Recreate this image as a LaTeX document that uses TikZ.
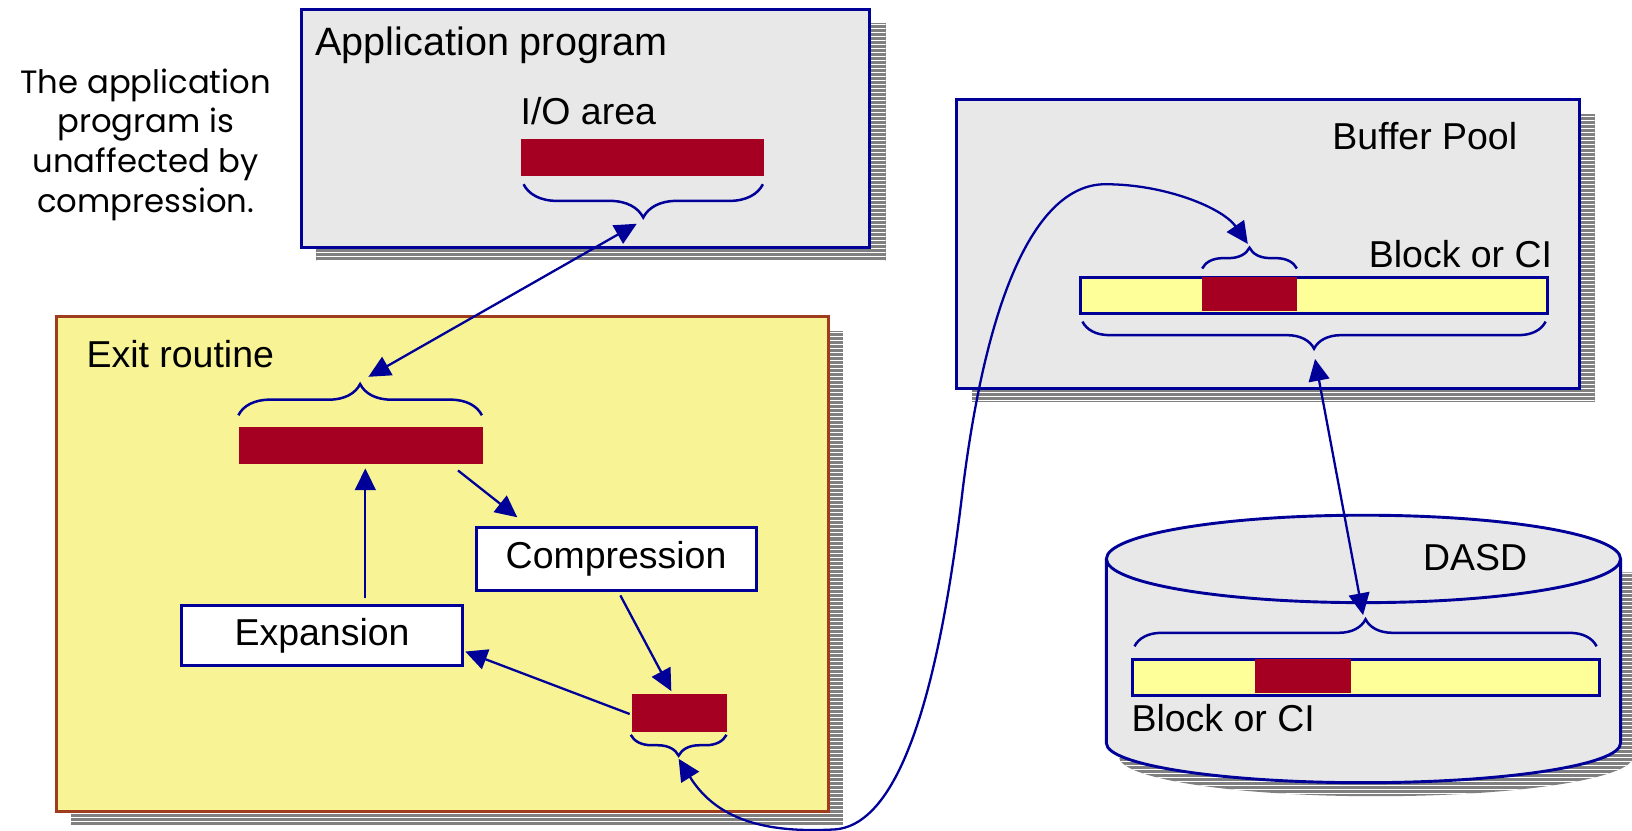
\documentclass[tikz,border=0pt]{standalone}
\usepackage{fontspec}
\setmainfont{Liberation Sans}
\newfontfamily\notefont{Poppins}
\usetikzlibrary{arrows.meta,decorations.pathreplacing}

\definecolor{navy}{RGB}{0,0,153}
\definecolor{panelgray}{RGB}{232,232,232}
\definecolor{exityellow}{RGB}{248,244,150}
\definecolor{exitborder}{RGB}{160,60,30}
\definecolor{datared}{RGB}{165,0,33}
\definecolor{bufyellow}{RGB}{255,255,153}
\definecolor{shadowgray}{RGB}{128,128,128}

\tikzset{
  panel/.style={draw=navy, line width=2.8pt, fill=panelgray},
  exitpanel/.style={draw=exitborder, line width=2.8pt, fill=exityellow},
  redbar/.style={fill=datared, draw=none, inner sep=0pt, minimum height=36pt},
  stepbox/.style={draw=navy, line width=2.8pt, fill=white, inner sep=0pt,
     font=\fontsize{36}{42}\selectfont},
  label/.style={font=\fontsize{36}{42}\selectfont, inner sep=0pt, anchor=base west},
  link/.style={draw=navy, line width=2.2pt},
  tip/.style={-{Triangle[length=21pt,width=20pt]}},
  bothtip/.style={{Triangle[length=21pt,width=20pt]}-{Triangle[length=21pt,width=20pt]}},
  bracket/.style={draw=navy, line width=2.4pt,
     decorate, decoration={brace, amplitude=#1}},
  bracket/.default=28pt
}

% striped drop shadow clipped to a given path
\newcommand\stripes[1]{%
  \begin{scope}
    \fill[shadowgray] #1;
    \clip #1;
    \foreach \yy in {0,3.85,...,800}
      \draw[white, line width=0.9pt] (0,\yy) -- (1568,\yy);
  \end{scope}}

\begin{document}
\begin{tikzpicture}[x=1pt, y=-1pt]
\useasboundingbox (0,0) rectangle (1568,798);

% ---- note on the left
\node[align=center, font=\notefont\fontsize{31}{38}\selectfont, inner sep=0pt]
  (note) at (140,139) {The application\\program is\\unaffected by\\compression.};

% ---- application program
\stripes{(304,22) rectangle (851,251)}
\node[panel, minimum width=546pt, minimum height=228pt, anchor=north west,
      inner sep=0pt] (app) at (288,8) {};
\node[label, font=\fontsize{38}{44}\selectfont] (apptitle) at (303,53) {Application program};
\node[label] (iolabel) at (500,120) {I/O area};
\node[redbar, minimum width=234pt, anchor=north west] (iobar) at (500,133) {};
\draw[bracket=32pt] (733,177) -- (503,177);
\coordinate (iotip) at (617,212);

% ---- exit routine
\stripes{(68,318) rectangle (810,793)}
\node[exitpanel, minimum width=742pt, minimum height=475pt, anchor=north west,
      inner sep=0pt] (exit) at (53,303) {};
\node[label] (exitlabel) at (83,353) {Exit routine};
\node[redbar, minimum width=235pt, anchor=north west] (exitbar) at (229,410) {};
\draw[bracket=30pt] (229,399) -- (463,399);
\coordinate (exittip) at (347,366);

\node[stepbox, minimum width=269pt, minimum height=61pt, anchor=north west]
  (comp) at (456,505) {Compression};
\node[stepbox, minimum width=270pt, minimum height=58pt, anchor=north west]
  (expa) at (173,580) {Expansion};
\coordinate (compin) at (497,497);
\coordinate (compout) at (596,572);
\coordinate (expin) at (447,626);
\coordinate (expout) at (351,575);

\node[redbar, minimum width=91pt, anchor=north west] (smallbar) at (607,667) {};
\draw[bracket=20pt] (698,706) -- (606,706);
\coordinate (smalltip) at (652,729);

% ---- buffer pool
\stripes{(934,110) rectangle (1532,386)}
\node[panel, minimum width=598pt, minimum height=278pt, anchor=north west,
      inner sep=0pt] (pool) at (918,94) {};
\node[label] (poollabel) at (1280,144) {Buffer Pool};
\node[label] (blocklabel) at (1315,257) {Block or CI};
\node[fill=bufyellow, draw=navy, line width=2.8pt, minimum width=448pt,
      minimum height=35pt, inner sep=0pt, anchor=north west] (bufbar) at (1037,265) {};
\fill[datared] (1155,266.4) rectangle (1246,298.6);
\draw[bracket=20pt] (1155,258) -- (1246,258);
\coordinate (buftip) at (1200,236);
\draw[bracket=26pt] (1485,309) -- (1040,309);
\coordinate (pooltip) at (1262,337);

% ---- DASD cylinder
\stripes{(1075,550) -- (1075,727) arc[start angle=180, end angle=0, x radius=247, y radius=38] -- (1569,550) -- cycle}
\path[fill=panelgray, draw=navy, line width=2.8pt]
  (1063,537) -- (1063,714) arc[start angle=180, end angle=0, x radius=247, y radius=38]
  -- (1557,537);
\draw[navy, line width=2.8pt, fill=panelgray] (1310,537) ellipse[x radius=247, y radius=42];
\coordinate (dasd) at (1310,537);
\node[label] (dasdlabel) at (1367,548) {DASD};
\node[fill=bufyellow, draw=navy, line width=2.8pt, minimum width=448pt,
      minimum height=35pt, inner sep=0pt, anchor=north west] (dasdbar) at (1087,632) {};
\fill[datared] (1206,633.4) rectangle (1298,665.6);
\draw[bracket=26pt] (1090,621) -- (1534,621);
\coordinate (dasdtip) at (1310,593);
\node[label] (dasdblock) at (1087,703) {Block or CI};

% ---- connectors
\draw[link, bothtip, shorten <=6pt, shorten >=8pt] (iotip) -- (exittip);
\draw[link, tip] (440,452) -- (compin);
\draw[link, tip] (expout) -- (351,450);
\draw[link, tip] (compout) -- (645,664);
\draw[link, tip] (605,686) -- (expin);
\draw[link, bothtip, shorten >=2pt] (smalltip)
  .. controls (690,790) and (740,800) .. (800,797)
  .. controls (870,795) and (905,640) .. (925,470)
  .. controls (950,270) and (1000,177) .. (1062,177)
  .. controls (1120,177) and (1175,200) .. (buftip);
\draw[link, bothtip, shorten <=8pt, shorten >=2pt] (pooltip) -- (dasdtip);
\end{tikzpicture}
\end{document}
